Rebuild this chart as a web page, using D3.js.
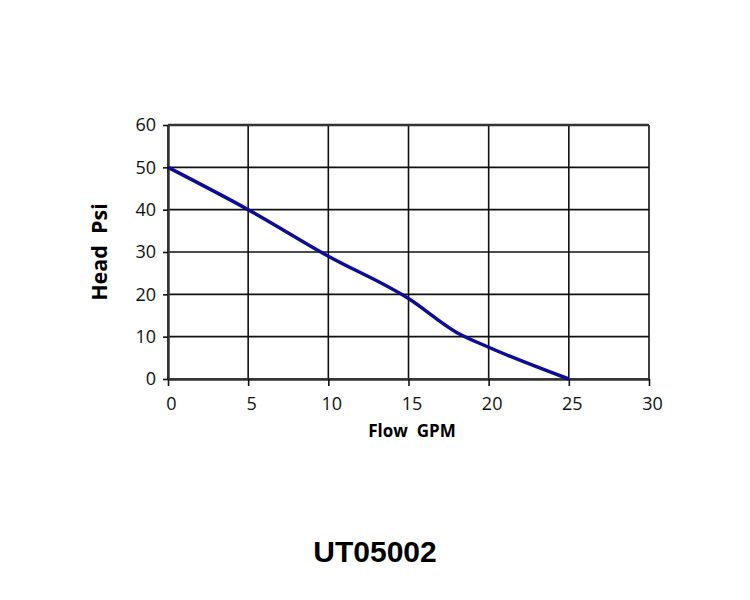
<!DOCTYPE html>
<html>
<head>
<meta charset="utf-8">
<script src="https://cdn.jsdelivr.net/npm/d3@7"></script>
<style>
  body { margin: 0; background: #fff; }
  .grid line { stroke: #111; stroke-width: 1.6; }
</style>
</head>
<body>
<svg id="chart" width="750" height="600"></svg>
<script>
const flow = [0, 5, 10, 15, 18, 20, 25];
const head = [50, 40, 29, 19, 11, 7.5, 0];
const xTicks = [0, 5, 10, 15, 20, 25, 30];
const yTicks = [0, 10, 20, 30, 40, 50, 60];

const margin = { top: 125, left: 168 };
const width = 481;
const height = 254;

const svg = d3.select('#chart');
const g = svg.append('g')
    .attr('transform', `translate(${margin.left}, ${margin.top})`);

const x = d3.scaleLinear().domain([0, 30]).range([0, width]);
const y = d3.scaleLinear().domain([0, 60]).range([height, 0]);

// grid
g.append('g')
    .attr('class', 'grid')
    .selectAll('line.h')
    .data(yTicks)
  .enter().append('line')
    .attr('x1', 0).attr('x2', width)
    .attr('y1', d => y(d)).attr('y2', d => y(d));

g.append('g')
    .attr('class', 'grid')
    .selectAll('line.v')
    .data(xTicks)
  .enter().append('line')
    .attr('x1', d => x(d)).attr('x2', d => x(d))
    .attr('y1', 0).attr('y2', height);

// axes
const xAxis = g.append('g')
    .attr('transform', `translate(0, ${height})`)
    .call(d3.axisBottom(x).tickValues(xTicks).tickSizeInner(7).tickSizeOuter(0).tickPadding(11));
const yAxis = g.append('g')
    .call(d3.axisLeft(y).tickValues(yTicks).tickSizeInner(5).tickSizeOuter(0).tickPadding(7));
[xAxis, yAxis].forEach(a => {
  a.attr('font-family', "'Open Sans', sans-serif").attr('font-size', 18);
  a.select('.domain').attr('stroke', '#333').attr('stroke-width', 2.5);
  a.selectAll('.tick line').attr('stroke', '#111').attr('stroke-width', 1.6);
  a.selectAll('.tick text').attr('fill', '#111');
});
xAxis.selectAll('.tick text').attr('dx', 3);
g.append('line')
    .attr('x1', 0).attr('x2', width).attr('y1', 0).attr('y2', 0)
    .attr('stroke', '#333').attr('stroke-width', 2.5);

// curve
const pts = flow.map((f, i) => ({ f, h: head[i] }));
g.append('path')
    .datum(pts)
    .attr('fill', 'none')
    .attr('stroke', '#0c0c96')
    .attr('stroke-width', 3.5)
    .attr('d', d3.line().x(d => x(d.f)).y(d => y(d.h)).curve(d3.curveMonotoneX));

// axis titles
svg.append('text')
    .attr('x', 412).attr('y', 437)
    .attr('text-anchor', 'middle')
    .style('font-family', "'Open Sans', sans-serif")
    .style('font-weight', 'bold')
    .style('font-size', '17px')
    .attr('xml:space', 'preserve')
    .text('Flow  GPM');

svg.append('text')
    .attr('transform', 'translate(107, 252) rotate(-90)')
    .attr('text-anchor', 'middle')
    .style('font-family', "'Open Sans', sans-serif")
    .style('font-weight', 'bold')
    .style('font-size', '21.5px')
    .attr('xml:space', 'preserve')
    .text('Head  Psi');

svg.append('text')
    .attr('x', 375).attr('y', 562)
    .attr('text-anchor', 'middle')
    .style('font-family', "'Liberation Sans', Arial, sans-serif")
    .style('font-weight', 'bold')
    .style('font-size', '30px')
    .text('UT05002');
</script>
</body>
</html>
